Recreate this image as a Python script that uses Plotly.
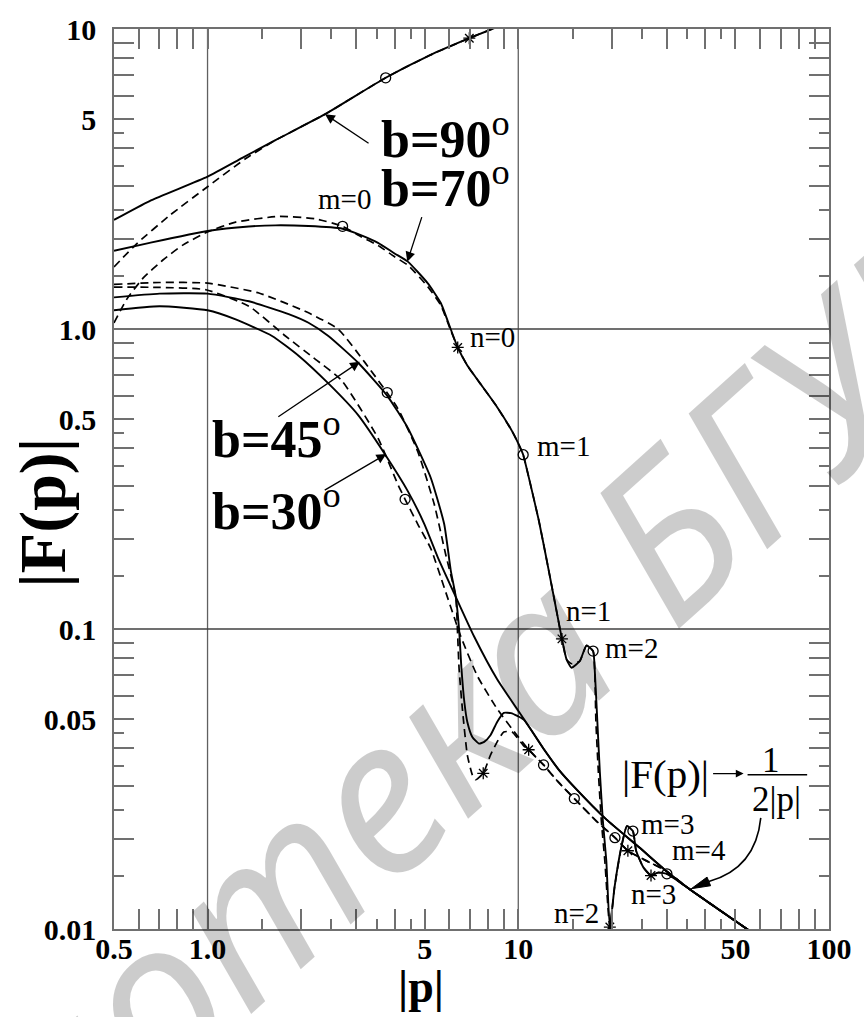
import numpy as np
import plotly.graph_objects as go

# ---------------- curve samples (|p|, |F(p)|) ----------------
# common asymptotic tails, |F(p)| -> 1/(2|p|)
tail_solid_p = [12.06, 13.49, 15.26, 19.20, 24.54, 29.86, 35.44, 55.10, 57.89]
tail_solid_F = [0.03988, 0.0340, 0.02949, 0.02319, 0.01869, 0.01565, 0.01362, 0.00992, 0.00963]
tail_dash_p = [12.06, 13.49, 15.15, 17.84, 20.47, 22.53, 25.78, 29.86, 35.44, 55.10, 57.89]
tail_dash_F = [0.03523, 0.03080, 0.02721, 0.0229, 0.02016, 0.01823, 0.0169, 0.01565, 0.01362, 0.00992, 0.00963]

# b = 90 deg
b90_p = [0.5, 0.651, 1.0, 1.294, 1.654, 2.389, 3.743, 5.185, 6.958, 9.2]
b90_F = [2.31, 2.67, 3.22, 3.72, 4.26, 5.20, 6.88, 8.17, 9.32, 10.47]
b90d_p = [0.5, 0.590, 0.755, 1.0, 1.327, 1.654, 2.389, 3.743, 5.185, 6.958, 9.2]
b90d_F = [1.61, 1.92, 2.39, 2.98, 3.70, 4.26, 5.20, 6.88, 8.17, 9.32, 10.47]

# b = 70 deg
b70_p = [0.5, 0.651, 1.0, 1.359, 1.654, 2.113, 2.720, 3.128, 3.537, 3.999,
         4.410, 5.109, 5.632, 6.063, 6.384, 6.856, 7.488, 8.471, 9.568, 10.05,
         10.37, 10.82, 11.65, 12.53, 13.32, 13.82, 14.30, 14.84, 15.78, 16.58,
         17.41, 17.62, 17.97, 18.30, 18.72, 19.20, 19.71, 20.41, 21.45, 22.37,
         23.38, 23.95, 25.27, 26.74, 28.15, 30.08]
b70_F = [1.823, 1.937, 2.122, 2.196, 2.216, 2.204, 2.159, 2.053, 1.937, 1.786,
         1.677, 1.422, 1.221, 0.998, 0.868, 0.755, 0.665, 0.557, 0.455, 0.411,
         0.381, 0.319, 0.2294, 0.1569, 0.1129, 0.0927, 0.0792, 0.0743, 0.0782, 0.0881,
         0.0844, 0.0734, 0.0490, 0.0335, 0.0229, 0.0169, 0.01015, 0.01379, 0.01869, 0.02204,
         0.02121, 0.01823, 0.01605, 0.01507, 0.01542, 0.01527]
b70d_p = [0.5, 0.5487, 0.6199, 0.7183, 0.8321, 1.0, 1.232, 1.695, 2.220, 2.720,
          3.128, 3.537, 3.999, 4.410, 5.109, 5.632, 6.063, 6.384, 6.856, 7.488,
          8.471, 9.568, 10.05, 10.37, 10.82, 11.65, 12.53, 13.32, 13.82, 14.30,
          14.84, 15.78, 16.58, 17.41, 17.62, 17.78, 18.10, 18.51, 18.99, 19.71,
          20.41, 21.45, 22.37, 23.38, 23.95, 25.27, 26.74, 28.15, 30.08]
b70d_F = [1.048, 1.253, 1.477, 1.698, 1.904, 2.106, 2.272, 2.373, 2.330, 2.199,
          2.027, 1.900, 1.741, 1.633, 1.386, 1.200, 0.989, 0.868, 0.755, 0.665,
          0.557, 0.455, 0.411, 0.381, 0.319, 0.2294, 0.1569, 0.1129, 0.0927, 0.0792,
          0.0766, 0.0782, 0.0881, 0.0844, 0.0734, 0.0490, 0.0335, 0.0229, 0.0169, 0.01015,
          0.01379, 0.01869, 0.02204, 0.02121, 0.01823, 0.01605, 0.01507, 0.01542, 0.01527]

# b = 45 deg
b45_p = [0.5, 0.7007, 1.0, 1.359, 1.824, 2.113, 2.448, 3.053, 3.779, 4.410,
         5.224, 5.775, 6.063, 6.291, 6.451, 6.561, 6.707, 6.856, 7.114, 7.472,
         7.768, 8.138, 8.551, 8.982, 9.477, 10.41]
b45_F = [1.275, 1.312, 1.312, 1.237, 1.121, 1.049, 0.948, 0.772, 0.601, 0.468,
         0.320, 0.2238, 0.1569, 0.1285, 0.0995, 0.0743, 0.0570, 0.0490, 0.04368, 0.04151,
         0.04205, 0.04424, 0.0490, 0.05254, 0.05242, 0.04989]
b45d_p = [0.5, 0.7007, 1.0, 1.463, 2.113, 2.635, 3.208, 4.098, 4.747, 5.366,
          5.833, 6.291, 6.371, 6.451, 6.609, 6.856, 7.114, 7.287, 7.714, 8.138,
          8.551, 8.982, 9.548, 10.41, 10.80]
b45d_F = [1.408, 1.429, 1.422, 1.318, 1.132, 0.998, 0.774, 0.543, 0.3906, 0.2604,
          0.1781, 0.1282, 0.0995, 0.0734, 0.05417, 0.0380, 0.03265, 0.03144, 0.03304, 0.0380,
          0.04205, 0.04537, 0.04537, 0.0408, 0.03958]

# b = 30 deg
b30_p = [0.5, 0.7007, 1.0, 1.232, 1.613, 1.963, 2.448, 3.053, 3.732, 4.410,
         4.986, 5.500, 6.218, 7.203, 8.551, 10.41]
b30_F = [1.155, 1.191, 1.155, 1.077, 0.948, 0.8145, 0.6584, 0.5163, 0.381, 0.2882,
         0.2238, 0.1741, 0.1315, 0.0946, 0.0680, 0.0502]
b30d_p = [0.5, 0.7007, 0.988, 1.359, 1.781, 2.192, 2.700, 3.537, 4.098, 4.323,
          4.747, 5.235, 5.789, 6.528, 7.381, 8.551, 9.904, 10.80]
b30d_F = [1.379, 1.376, 1.352, 1.191, 0.948, 0.802, 0.674, 0.4325, 0.3032, 0.2706,
          0.2238, 0.1850, 0.1365, 0.0946, 0.0698, 0.05417, 0.04424, 0.03958]

# special points: circles (m) and stars (n)
circ_p = [3.743, 2.720, 10.37, 17.41, 23.38, 30.08, 3.787, 4.323, 12.06, 15.15, 20.47]
circ_F = [6.876, 2.199, 0.381, 0.0844, 0.02121, 0.01527, 0.614, 0.2706, 0.03523, 0.02721, 0.02016]
star_p = [6.958, 6.384, 13.82, 19.71, 26.74, 7.714, 10.80, 22.53]
star_F = [9.318, 0.868, 0.0927, 0.01015, 0.01507, 0.03304, 0.03958, 0.01823]

# labels of m / n points: (text, p, F, xshift, yshift)
point_labels = [
    ("m=0", 2.720, 2.199, 2, 27),
    ("n=0", 6.384, 0.868, 35, 10),
    ("m=1", 10.37, 0.381, 40, 9),
    ("n=1", 13.82, 0.0927, 27, 28),
    ("m=2", 17.41, 0.0844, 38, 3),
    ("n=2", 19.71, 0.01015, -33, 14),
    ("m=3", 23.38, 0.02121, 35, 7),
    ("m=4", 30.08, 0.01527, 32, 24),
    ("n=3", 26.74, 0.01507, 2, -18),
]

# axis ticks
x_range = [0.5, 100]
y_range = [0.01, 10]
long_mult = [1, 2, 3, 4, 5, 6, 7, 8, 9]
short_mult = [1.5, 2.5, 3.5, 4.5]
x_labels = {0.5: "0.5", 1: "1.0", 5: "5", 10: "10", 50: "50", 100: "100"}
y_labels = {0.01: "0.01", 0.05: "0.05", 0.1: "0.1", 0.5: "0.5", 1: "1.0", 5: "5", 10: "10"}

SERIF = "Liberation Serif"
INK = "black"
FRAME = "#707070"

# plot-area geometry (pixels)
W_FIG, H_FIG = 864, 1017
M_L, M_R, M_T, M_B = 114, 30, 20, 88
W_PLOT = W_FIG - M_L - M_R
H_PLOT = H_FIG - M_T - M_B


def paper(xpx, ypx):
    return (xpx - M_L) / W_PLOT, 1 - (ypx - M_T) / H_PLOT


def ticks_in(lo, hi, mults):
    vals = []
    for e in range(-3, 3):
        for m in mults:
            v = round(m * 10 ** e, 6)
            if lo - 1e-9 <= v <= hi + 1e-9:
                vals.append(v)
    return sorted(set(vals))


def label_for(v, table):
    for k, t in table.items():
        if abs(v - k) < 1e-9:
            return "<b>%s</b>" % t
    return ""


def text_at(xpx, ypx, text, size, **kw):
    xp, yp = paper(xpx, ypx)
    d = dict(x=xp, y=yp, xref="paper", yref="paper", text=text, showarrow=False,
             xanchor="center", yanchor="middle",
             font=dict(family=SERIF, size=size, color=INK))
    d.update(kw)
    return d


fig = go.Figure()

solid = dict(color=INK, width=1.9, shape="spline", smoothing=0.5)
dashed = dict(color=INK, width=1.7, dash="8px,5px", shape="spline", smoothing=0.5)

curves = [
    (b90d_p, b90d_F, dashed),
    (b70d_p + tail_solid_p[6:], b70d_F + tail_solid_F[6:], dashed),
    (b45d_p + tail_dash_p, b45d_F + tail_dash_F, dashed),
    (b30d_p + tail_dash_p, b30d_F + tail_dash_F, dashed),
    (b90_p, b90_F, solid),
    (b70_p + tail_solid_p[6:], b70_F + tail_solid_F[6:], solid),
    (b45_p + tail_solid_p, b45_F + tail_solid_F, solid),
    (b30_p + tail_solid_p, b30_F + tail_solid_F, solid),
]
for px_, fy_, ln in curves:
    fig.add_trace(go.Scatter(x=px_, y=fy_, mode="lines", line=ln,
                             hoverinfo="skip", showlegend=False, cliponaxis=True))

fig.add_trace(go.Scatter(x=circ_p, y=circ_F, mode="markers", showlegend=False,
                         marker=dict(symbol="circle-open", size=10, color=INK,
                                     line=dict(width=1.3, color=INK))))
fig.add_trace(go.Scatter(x=star_p, y=star_F, mode="markers", showlegend=False,
                         marker=dict(symbol="asterisk-open", size=10, color=INK,
                                     line=dict(width=1.3, color=INK))))

# reference grid lines at the decades
for v in [1, 10]:
    fig.add_shape(type="line", xref="x", yref="paper", x0=v, x1=v, y0=0, y1=1,
                  line=dict(color="#606060", width=1.3), layer="below")
for v in [0.1, 1]:
    fig.add_shape(type="line", xref="paper", yref="y", x0=0, x1=1, y0=v, y1=v,
                  line=dict(color="#404040", width=1.3), layer="below")

annotations = []

# library stamp (drawn first, under the other texts)
annotations.append(text_at(364, 800, "<i>Библиотека БГУИР</i>", 215, textangle=-42,
                           font=dict(family="Noto Sans", size=215,
                                     color="rgba(0,0,0,0.2)")))

# m / n labels
for txt, p, F, dx, dy in point_labels:
    annotations.append(dict(x=np.log10(p), y=np.log10(F), xref="x", yref="y",
                            text=txt, showarrow=False, xshift=dx, yshift=dy,
                            xanchor="center", yanchor="middle",
                            font=dict(family=SERIF, size=29, color=INK)))

# b labels
for txt, xpx, ypx in [("b=90", 381, 128), ("b=70", 381, 177),
                      ("b=45", 211, 431), ("b=30", 211, 503)]:
    annotations.append(text_at(xpx, ypx, "<b>%s</b><sup>o</sup>" % txt, 52,
                               xanchor="left"))

# arrows from b labels to their curves: (p, F at tip, ax, ay)
for p, F, ax, ay in [(2.389, 5.20, 45, 30), (4.394, 1.677, 15, -46),
                     (3.091, 0.778, -83, 56), (3.759, 0.383, -63, 37)]:
    annotations.append(dict(x=np.log10(p), y=np.log10(F), xref="x", yref="y",
                            ax=ax, ay=ay, text="", showarrow=True, arrowhead=2,
                            arrowsize=1.5, arrowwidth=1.3, arrowcolor=INK))

# asymptote note
annotations.append(text_at(669, 772, "|F(p)|", 41))
xp, yp = paper(748, 772)
annotations.append(dict(x=xp, y=yp, xref="paper", yref="paper", text="", ax=-32, ay=0,
                        showarrow=True, arrowhead=2, arrowsize=1.2, arrowwidth=1.3,
                        arrowcolor=INK))
annotations.append(text_at(776, 759, "1", 35))
annotations.append(text_at(781, 798, "2|p|", 35))

# axis titles
annotations.append(text_at(43, 508, "<b>|F(p)|</b>", 66, textangle=-90))
annotations.append(text_at(423, 987, "<b>|p|</b>", 46))

# fraction bar and curved pointer
x0, y0 = paper(752, 773.3)
x1, _ = paper(812, 773.3)
fig.add_shape(type="line", xref="paper", yref="paper", x0=x0, x1=x1, y0=y0, y1=y0,
              line=dict(color=INK, width=1.5))


def pth(points, cmd):
    parts = []
    for c, (a, b) in zip(cmd, points):
        xa, yb = paper(a, b)
        parts.append("%s%.5f,%.5f" % (c, xa, yb))
    return " ".join(parts)


curve_pts = [(765.3, 816.7), (762, 850), (745, 872), (713, 881)]
fig.add_shape(type="path", xref="paper", yref="paper",
              path=pth(curve_pts, ["M", "C", "", ""]),
              line=dict(color=INK, width=1.6))
head_pts = [(695.3, 888.3), (714.8, 885.3), (711.2, 876.6)]
fig.add_shape(type="path", xref="paper", yref="paper",
              path=pth(head_pts, ["M", "L", "L"]) + " Z",
              fillcolor=INK, line=dict(color=INK, width=1))

axis_common = dict(type="log", showgrid=False, zeroline=False, showline=True,
                   linecolor=FRAME, linewidth=1.6, mirror="ticks", ticks="inside",
                   ticklen=20, tickwidth=1.5, tickcolor=FRAME,
                   tickfont=dict(family=SERIF, size=30, color=INK))

xt = ticks_in(*x_range, long_mult)
yt = ticks_in(*y_range, long_mult)
fig.update_xaxes(range=[np.log10(x_range[0]), np.log10(x_range[1])],
                 tickmode="array", tickvals=xt, ticktext=[label_for(v, x_labels) for v in xt],
                 ticklabelstandoff=-8,
                 minor=dict(tickvals=ticks_in(*x_range, short_mult), ticklen=10,
                            tickwidth=1.5, tickcolor=FRAME, ticks="inside", showgrid=False),
                 **axis_common)
fig.update_yaxes(range=[np.log10(y_range[0]), np.log10(y_range[1])],
                 tickmode="array", tickvals=yt, ticktext=[label_for(v, y_labels) for v in yt],
                 ticklabelstandoff=10,
                 minor=dict(tickvals=ticks_in(*y_range, short_mult), ticklen=10,
                            tickwidth=1.5, tickcolor=FRAME, ticks="inside", showgrid=False),
                 **axis_common)

fig.update_layout(width=W_FIG, height=H_FIG, autosize=False,
                  margin=dict(l=M_L, r=M_R, t=M_T, b=M_B),
                  paper_bgcolor="white", plot_bgcolor="white",
                  annotations=annotations, showlegend=False)

fig.write_html("out.html", post_script="document.body.style.margin='0';")
